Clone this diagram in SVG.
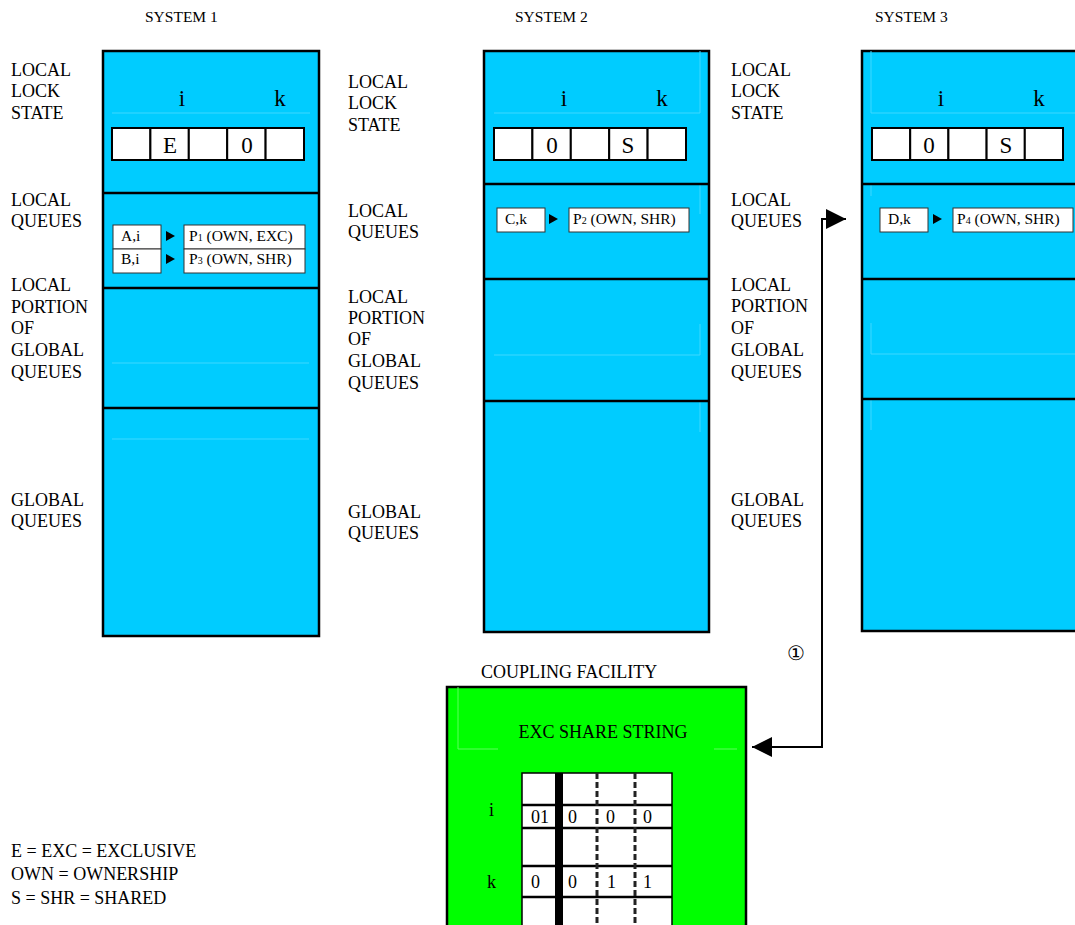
<svg xmlns="http://www.w3.org/2000/svg" width="1075" height="925" viewBox="0 0 1075 925">
<style>
text{font-family:"Liberation Serif","Times New Roman",serif;fill:#000}
.ttl{font-size:15.5px}
.lbl{font-size:18px}
.sys{fill:#00ccff;stroke:#000;stroke-width:2.5}
.dv{stroke:#000;stroke-width:2.5;fill:none}
.cell{fill:#fff;stroke:#000;stroke-width:2}
.big{font-size:23px;text-anchor:middle}
.q{fill:#fff;stroke:#333;stroke-width:1}
.qt{font-size:15.5px}
.sub{font-size:10px}
.faint{stroke:#3ed8ff;stroke-width:1;fill:none}
.faintg{stroke:#5cff5c;stroke-width:1;fill:none}
.gv{font-size:18px}
.conn{stroke:#000;stroke-width:2;fill:none}
</style>
<defs>
<marker id="bigArrow" viewBox="0 0 20 20" refX="20" refY="10" markerWidth="20" markerHeight="20" markerUnits="userSpaceOnUse" orient="auto-start-reverse">
<path d="M0,0 L20,10 L0,20 z" fill="#000"/>
</marker>
<polygon id="tri" points="0,-5 9,0 0,5" fill="#000"/>
</defs>

<!-- titles -->
<text class="ttl" x="145" y="22">SYSTEM 1</text>
<text class="ttl" x="515" y="22">SYSTEM 2</text>
<text class="ttl" x="875" y="22">SYSTEM 3</text>

<!-- side labels -->
<g id="labels-1">
<text class="lbl" x="11" y="76">LOCAL</text>
<text class="lbl" x="11" y="97">LOCK</text>
<text class="lbl" x="11" y="119">STATE</text>
<text class="lbl" x="11" y="206">LOCAL</text>
<text class="lbl" x="11" y="227">QUEUES</text>
<text class="lbl" x="11" y="291">LOCAL</text>
<text class="lbl" x="11" y="313">PORTION</text>
<text class="lbl" x="11" y="334">OF</text>
<text class="lbl" x="11" y="356">GLOBAL</text>
<text class="lbl" x="11" y="378">QUEUES</text>
<text class="lbl" x="11" y="506">GLOBAL</text>
<text class="lbl" x="11" y="527">QUEUES</text>
</g>
<g id="labels-2">
<text class="lbl" x="348" y="88">LOCAL</text>
<text class="lbl" x="348" y="109">LOCK</text>
<text class="lbl" x="348" y="131">STATE</text>
<text class="lbl" x="348" y="217">LOCAL</text>
<text class="lbl" x="348" y="238">QUEUES</text>
<text class="lbl" x="348" y="303">LOCAL</text>
<text class="lbl" x="348" y="324">PORTION</text>
<text class="lbl" x="348" y="345">OF</text>
<text class="lbl" x="348" y="367">GLOBAL</text>
<text class="lbl" x="348" y="389">QUEUES</text>
<text class="lbl" x="348" y="518">GLOBAL</text>
<text class="lbl" x="348" y="539">QUEUES</text>
</g>
<g id="labels-3">
<text class="lbl" x="731" y="76">LOCAL</text>
<text class="lbl" x="731" y="97">LOCK</text>
<text class="lbl" x="731" y="119">STATE</text>
<text class="lbl" x="731" y="206">LOCAL</text>
<text class="lbl" x="731" y="227">QUEUES</text>
<text class="lbl" x="731" y="291">LOCAL</text>
<text class="lbl" x="731" y="312">PORTION</text>
<text class="lbl" x="731" y="334">OF</text>
<text class="lbl" x="731" y="356">GLOBAL</text>
<text class="lbl" x="731" y="378">QUEUES</text>
<text class="lbl" x="731" y="506">GLOBAL</text>
<text class="lbl" x="731" y="527">QUEUES</text>
</g>

<!-- SYSTEM 1 -->
<g id="system1">
<rect class="sys" x="103" y="51" width="216" height="585"/>
<path class="faint" d="M112 113 H310 M112 363 H309 M112 439 H309"/>
<path class="dv" d="M103 193 H319 M103 288 H319 M103 408 H319"/>
<text class="big" x="182" y="106">i</text>
<text class="big" x="280" y="106">k</text>
<rect class="cell" x="112" y="128" width="38.4" height="32"/>
<rect class="cell" x="150.4" y="128" width="38.4" height="32"/>
<rect class="cell" x="188.8" y="128" width="38.4" height="32"/>
<rect class="cell" x="227.2" y="128" width="38.4" height="32"/>
<rect class="cell" x="265.6" y="128" width="38.4" height="32"/>
<text class="big" x="170" y="153">E</text>
<text class="big" x="247" y="153">0</text>
<rect class="q" x="113" y="225" width="48" height="24"/>
<rect class="q" x="113" y="249" width="48" height="24"/>
<rect class="q" x="184" y="225" width="121" height="24"/>
<rect class="q" x="184" y="249" width="121" height="24"/>
<text class="qt" x="121" y="241">A,i</text>
<text class="qt" x="121" y="264">B,i</text>
<text class="qt" x="189" y="241">P<tspan class="sub">1</tspan> (OWN, EXC)</text>
<text class="qt" x="189" y="264">P<tspan class="sub">3</tspan> (OWN, SHR)</text>
</g>

<!-- SYSTEM 2 -->
<g id="system2">
<rect class="sys" x="484" y="51" width="225" height="581"/>
<path class="faint" d="M700 51 V113 H494 M700 184 V214 M700 324 V355 H494 M700 401 V432"/>
<path class="dv" d="M484 184 H709 M484 279 H709 M484 401 H709"/>
<text class="big" x="564" y="106">i</text>
<text class="big" x="662" y="106">k</text>
<rect class="cell" x="494" y="128" width="38.4" height="32"/>
<rect class="cell" x="532.4" y="128" width="38.4" height="32"/>
<rect class="cell" x="570.8" y="128" width="38.4" height="32"/>
<rect class="cell" x="609.2" y="128" width="38.4" height="32"/>
<rect class="cell" x="647.6" y="128" width="38.4" height="32"/>
<text class="big" x="552" y="153">0</text>
<text class="big" x="628" y="153">S</text>
<rect class="q" x="497" y="208" width="48" height="24"/>
<rect class="q" x="569" y="208" width="120" height="24"/>
<text class="qt" x="505" y="224">C,k</text>
<text class="qt" x="573" y="224">P<tspan class="sub">2</tspan> (OWN, SHR)</text>
</g>

<!-- SYSTEM 3 -->
<g id="system3">
<rect class="sys" x="862" y="51" width="220" height="580"/>
<path class="faint" d="M871 51 V113 H1075 M871 184 V196 M871 323 V354 H1075 M871 400 V430"/>
<path class="dv" d="M862 184 H1080 M862 279 H1080 M862 399 H1080"/>
<text class="big" x="941" y="106">i</text>
<text class="big" x="1039" y="106">k</text>
<rect class="cell" x="872" y="128" width="38.2" height="32"/>
<rect class="cell" x="910.2" y="128" width="38.2" height="32"/>
<rect class="cell" x="948.4" y="128" width="38.2" height="32"/>
<rect class="cell" x="986.6" y="128" width="38.2" height="32"/>
<rect class="cell" x="1024.8" y="128" width="38.2" height="32"/>
<text class="big" x="929" y="153">0</text>
<text class="big" x="1006" y="153">S</text>
<rect class="q" x="880" y="208" width="48" height="24"/>
<rect class="q" x="953" y="208" width="120" height="24"/>
<text class="qt" x="888" y="224">D,k</text>
<text class="qt" x="957" y="224">P<tspan class="sub">4</tspan> (OWN, SHR)</text>
</g>

<!-- COUPLING FACILITY -->
<g id="coupling-facility">
<text class="lbl" x="481" y="678">COUPLING FACILITY</text>
<rect x="447" y="687" width="299" height="250" fill="#00ff00" stroke="#000" stroke-width="2.5"/>
<path class="faintg" d="M458 687 V749 H498 M714 749 H737"/>
<text class="lbl" x="603" y="738" text-anchor="middle">EXC SHARE STRING</text>
<rect x="522" y="773" width="150" height="160" fill="#fff" stroke="#000" stroke-width="1.5"/>
<path d="M522 805 H672 M522 828 H672 M522 866 H672 M522 897 H672" stroke="#000" stroke-width="2.5"/>
<rect x="555" y="773" width="8" height="160" fill="#000"/>
<path d="M597 773 V925 M635 773 V925" stroke="#222" stroke-width="3" stroke-dasharray="6 3"/>
<text class="gv" x="489" y="816">i</text>
<text class="gv" x="487" y="888">k</text>
<text class="gv" x="531" y="823">01</text>
<text class="gv" x="568" y="823">0</text>
<text class="gv" x="606" y="823">0</text>
<text class="gv" x="643" y="823">0</text>
<text class="gv" x="531" y="888">0</text>
<text class="gv" x="568" y="888">0</text>
<text class="gv" x="607" y="888">1</text>
<text class="gv" x="643" y="888">1</text>
</g>

<!-- connectors -->
<g id="connectors">
<use href="#tri" x="166" y="236"/>
<use href="#tri" x="166" y="259"/>
<use href="#tri" x="549" y="219"/>
<use href="#tri" x="933" y="219"/>
<path class="conn" d="M846 219 H822 V747 H752" marker-start="url(#bigArrow)" marker-end="url(#bigArrow)"/>
<text x="796" y="660" font-family="'Noto Sans CJK JP', 'DejaVu Sans', sans-serif" font-size="20" text-anchor="middle">①</text>
</g>

<!-- legend -->
<g id="legend">
<text class="lbl" x="11" y="857">E = EXC = EXCLUSIVE</text>
<text class="lbl" x="11" y="880">OWN = OWNERSHIP</text>
<text class="lbl" x="11" y="904">S = SHR = SHARED</text>
</g>
</svg>
